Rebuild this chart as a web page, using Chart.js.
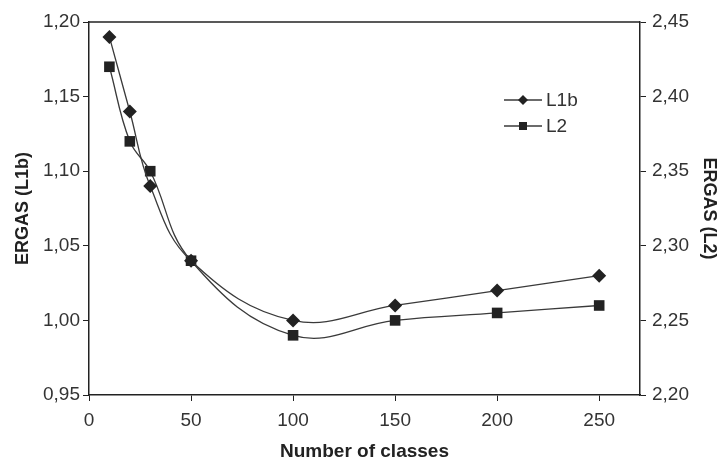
<!DOCTYPE html>
<html>
<head>
<meta charset="utf-8">
<script src="https://cdn.jsdelivr.net/npm/chart.js@4"></script>
<style>
  html, body { margin: 0; padding: 0; background: #fff; }
  #wrap { width: 720px; height: 463px; }
</style>
</head>
<body>
<div id="wrap"><canvas id="myChart"></canvas></div>
<script>
// number of classes
var classes = [10, 20, 30, 50, 100, 150, 200, 250];
// ERGAS values, L1b on the left axis, L2 on the right axis
var ergasL1b = [1.19, 1.14, 1.09, 1.04, 1.00, 1.01, 1.02, 1.03];
var ergasL2 = [2.42, 2.37, 2.35, 2.29, 2.24, 2.25, 2.255, 2.26];
var xTicks = [0, 50, 100, 150, 200, 250];
var leftTicks = [0.95, 1.00, 1.05, 1.10, 1.15, 1.20];
var rightTicks = [2.20, 2.25, 2.30, 2.35, 2.40, 2.45];

var ink = '#222';
var lineCol = '#3a3a3a';
var tickFont = { family: 'Liberation Sans, Arial, sans-serif', size: 19 };
var titleFont = { family: 'Liberation Sans, Arial, sans-serif', size: 18, weight: 'bold' };

const pairs = (xs, ys) => xs.map((x, i) => ({ x: x, y: ys[i] }));
const comma = v => Number(v).toFixed(2).replace('.', ',');

// top border + legend inside the plot
const frame = {
    id: 'frame',
    afterDraw(chart) {
        const c = chart.ctx, a = chart.chartArea;
        c.save();
        c.strokeStyle = ink;
        c.lineWidth = 1.5;
        c.beginPath();
        c.moveTo(a.left, a.top);
        c.lineTo(a.right, a.top);
        c.stroke();

        const items = [
            { text: 'L1b', y: 100, style: 'rectRot', r: 5 },
            { text: 'L2', y: 126, style: 'rect', r: 5 }
        ];
        c.font = '19px "Liberation Sans", Arial, sans-serif';
        c.textBaseline = 'middle';
        items.forEach(it => {
            c.strokeStyle = lineCol;
            c.lineWidth = 1.3;
            c.beginPath();
            c.moveTo(504, it.y);
            c.lineTo(542, it.y);
            c.stroke();
            c.fillStyle = ink;
            if (it.style === 'rectRot') {
                c.beginPath();
                c.moveTo(523, it.y - it.r);
                c.lineTo(523 + it.r, it.y);
                c.lineTo(523, it.y + it.r);
                c.lineTo(523 - it.r, it.y);
                c.closePath();
                c.fill();
            } else {
                c.fillRect(523 - 4, it.y - 4, 8, 8);
            }
            c.fillStyle = '#333';
            c.fillText(it.text, 546, it.y + 1);
        });
        c.restore();
    }
};

var ctx = document.getElementById('myChart').getContext('2d');
var myChart = new Chart(ctx, {
    type: 'line',
    data: {
        datasets: [{
            label: 'L1b',
            data: pairs(classes, ergasL1b),
            yAxisID: 'yL',
            borderColor: lineCol,
            borderWidth: 1.3,
            backgroundColor: ink,
            pointStyle: 'rectRot',
            pointRadius: 7,
            pointBorderWidth: 0,
            tension: 0.4,
            fill: false
        }, {
            label: 'L2',
            data: pairs(classes, ergasL2),
            yAxisID: 'yR',
            borderColor: lineCol,
            borderWidth: 1.3,
            backgroundColor: ink,
            pointStyle: 'rect',
            pointRadius: 7.5,
            pointBorderWidth: 0,
            tension: 0.4,
            fill: false
        }]
    },
    options: {
        responsive: true,
        maintainAspectRatio: false,
        animation: false,
        layout: { padding: { top: 22, left: 0, right: 0, bottom: 0 } },
        plugins: {
            legend: { display: false },
            tooltip: { enabled: false }
        },
        scales: {
            x: {
                type: 'linear',
                min: 0,
                max: 270,
                afterBuildTicks: s => { s.ticks = xTicks.map(v => ({ value: v })); },
                afterFit: s => { s.height = 68; },
                grid: { drawOnChartArea: false, drawTicks: true, tickLength: 6, color: ink },
                border: { color: ink, width: 1.5 },
                ticks: { font: tickFont, color: '#333', padding: 8, maxRotation: 0 },
                title: { display: true, text: 'Number of classes', font: { family: titleFont.family, size: 19, weight: 'bold' }, color: ink, padding: { top: 0, bottom: 0 } }
            },
            yL: {
                position: 'left',
                min: 0.95,
                max: 1.20,
                afterBuildTicks: s => { s.ticks = leftTicks.map(v => ({ value: v })); },
                afterFit: s => { s.width = 89; },
                grid: { drawOnChartArea: false, drawTicks: true, tickLength: 6, color: ink },
                border: { color: ink, width: 1.5 },
                ticks: { font: tickFont, color: '#333', padding: 3, callback: comma },
                title: { display: true, text: 'ERGAS (L1b)', font: titleFont, color: ink, padding: { top: 12, bottom: 0 } }
            },
            yR: {
                position: 'right',
                min: 2.20,
                max: 2.45,
                afterBuildTicks: s => { s.ticks = rightTicks.map(v => ({ value: v })); },
                afterFit: s => { s.width = 80; },
                grid: { drawOnChartArea: false, drawTicks: true, tickLength: 6, color: ink },
                border: { color: ink, width: 1.5 },
                ticks: { font: tickFont, color: '#333', padding: 6, callback: comma },
                title: { display: true, text: 'ERGAS (L2)', font: titleFont, color: ink, padding: { top: 0, bottom: 0 } }
            }
        }
    },
    plugins: [frame]
});
</script>
</body>
</html>
